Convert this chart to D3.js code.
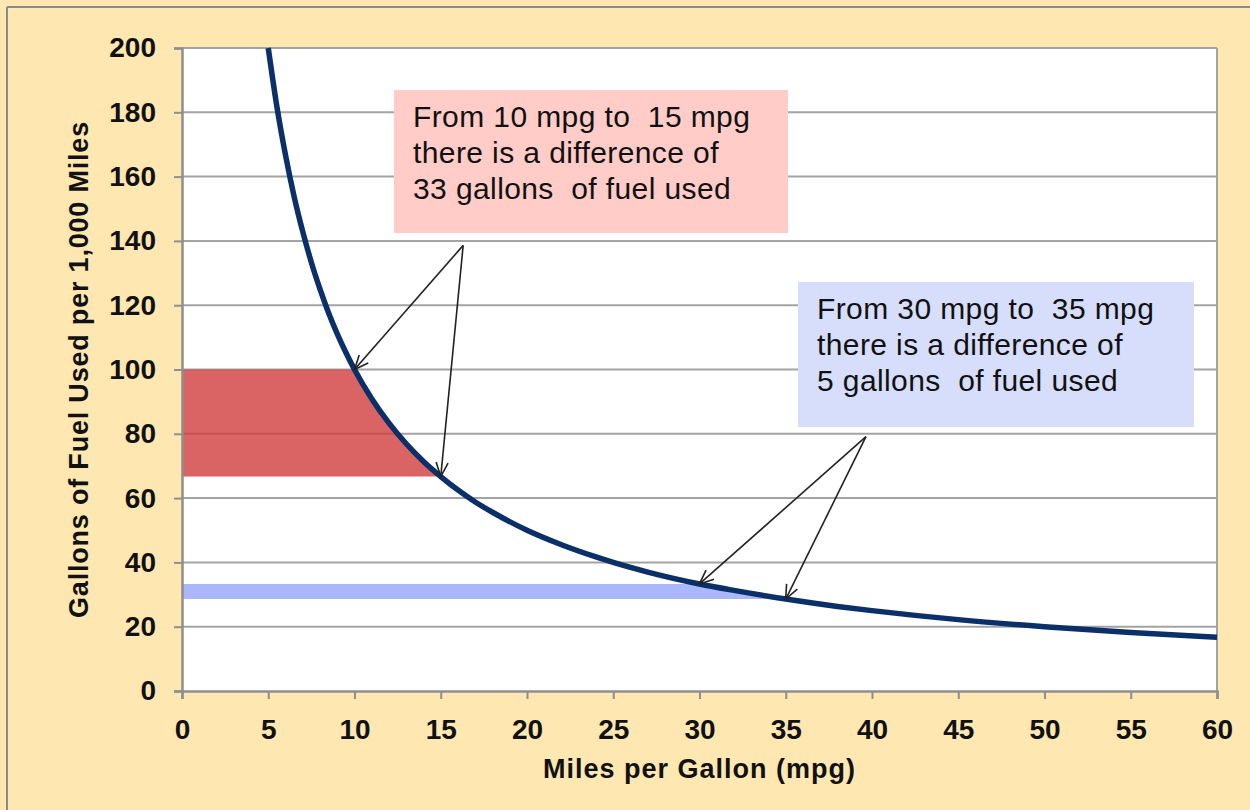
<!DOCTYPE html>
<html>
<head>
<meta charset="utf-8">
<script src="https://cdn.jsdelivr.net/npm/d3@7"></script>
<style>
  html, body { margin: 0; padding: 0; background: #fee7b1; }
  svg { display: block; }
</style>
</head>
<body>
<svg id="chart" width="1250" height="810"></svg>
<script>
// ---- data ----
const mpg     = [5, 5.5, 6, 6.5, 7, 7.5, 8, 8.5, 9, 9.5, 10, 11, 12, 13, 14, 15, 16, 17, 18, 20, 22, 24, 25, 27, 30, 32, 35, 38, 40, 45, 50, 55, 60];
const gallons = [200, 181.8, 166.7, 153.8, 142.9, 133.3, 125, 117.6, 111.1, 105.3, 100, 90.9, 83.3, 76.9, 71.4, 66.7, 62.5, 58.8, 55.6, 50, 45.5, 41.7, 40, 37, 33.3, 31.3, 28.6, 26.3, 25, 22.2, 20, 18.2, 16.7];
const xTicks = [0, 5, 10, 15, 20, 25, 30, 35, 40, 45, 50, 55, 60];
const yTicks = [0, 20, 40, 60, 80, 100, 120, 140, 160, 180, 200];
const redBand  = [10, 15];   // mpg range
const blueBand = [30, 35];   // mpg range
const note1 = ["From 10 mpg to  15 mpg", "there is a difference of", "33 gallons  of fuel used"];
const note2 = ["From 30 mpg to  35 mpg", "there is a difference of", "5 gallons  of fuel used"];
const arrowOrigin1 = [16.3, 138.6];
const arrowOrigin2 = [39.65, 79.1];
const xTitle = "Miles per Gallon (mpg)";
const yTitle = "Gallons of Fuel Used per 1,000 Miles";

const pts = mpg.map((m, i) => ({x: m, y: gallons[i]}));

// ---- layout ----
const svg = d3.select("#chart");
const L = 182, R = 1217, T = 48, B = 691;
const x = d3.scaleLinear().domain([0, 60]).range([L, R]);
const y = d3.scaleLinear().domain([0, 200]).range([B, T]);

// outer frame (top & left)
svg.append("line").attr("x1", 7).attr("x2", 1250).attr("y1", 7).attr("y2", 7).attr("stroke", "#8a8a8a").attr("stroke-width", 2);
svg.append("line").attr("x1", 7).attr("x2", 7).attr("y1", 7).attr("y2", 810).attr("stroke", "#8a8a8a").attr("stroke-width", 2);

// plot area
svg.append("rect").attr("x", L).attr("y", T).attr("width", R - L).attr("height", B - T).attr("fill", "#ffffff");

// gridlines
svg.append("g").selectAll("line").data(yTicks.filter(d => d > 0)).join("line")
  .attr("x1", L).attr("x2", R).attr("y1", d => y(d)).attr("y2", d => y(d))
  .attr("stroke", "#a3a3a3").attr("stroke-width", 2);
// right border of plot
svg.append("line").attr("x1", R).attr("x2", R).attr("y1", T).attr("y2", B).attr("stroke", "#a3a3a3").attr("stroke-width", 2);

// bands
function bandPath(range) {
  const seg = pts.filter(p => p.x >= range[0] && p.x <= range[1]);
  const poly = [{x: 0, y: seg[0].y}, ...seg, {x: 0, y: seg[seg.length - 1].y}];
  return d3.line().x(d => x(d.x)).y(d => y(d.y)).curve(d3.curveLinear)(poly) + "Z";
}
svg.append("path").attr("d", bandPath(redBand)).attr("fill", "rgb(209,61,61)").attr("fill-opacity", 0.8);
svg.append("path").attr("d", bandPath(blueBand)).attr("fill", "rgb(150,165,250)").attr("fill-opacity", 0.8);

// axes
const fontAxis = "'Liberation Sans', Arial, sans-serif";
const yAxis = svg.append("g").attr("transform", `translate(${L},0)`)
  .call(d3.axisLeft(y).tickValues(yTicks).tickSize(8).tickPadding(18).tickFormat(d3.format("d")));
const xAxis = svg.append("g").attr("transform", `translate(0,${B})`)
  .call(d3.axisBottom(x).tickValues(xTicks).tickSize(8).tickPadding(20).tickFormat(d3.format("d")));
[yAxis, xAxis].forEach(a => {
  a.select(".domain").attr("stroke", "#8f8f8f").attr("stroke-width", 2.5);
  a.selectAll(".tick line").attr("stroke", "#8f8f8f").attr("stroke-width", 2);
  a.selectAll(".tick text").attr("font-family", fontAxis).attr("font-weight", "bold")
    .attr("font-size", 28).attr("fill", "#111");
});

// curve
svg.append("path").datum(pts)
  .attr("d", d3.line().x(d => x(d.x)).y(d => y(d.y)).curve(d3.curveMonotoneX))
  .attr("fill", "none").attr("stroke", "#0b2f69").attr("stroke-width", 5.5).attr("stroke-linecap", "butt");

// annotation boxes
function note(lines, bx, by, bw, bh, fill) {
  svg.append("rect").attr("x", bx).attr("y", by).attr("width", bw).attr("height", bh).attr("fill", fill);
  svg.append("g").selectAll("text").data(lines).join("text")
    .attr("x", bx + 19).attr("y", (d, i) => by + 37 + i * 36)
    .attr("font-family", fontAxis).attr("font-size", 30).attr("letter-spacing", 0.4).attr("fill", "#111")
    .style("white-space", "pre")
    .text(d => d);
}
note(note1, 394, 90, 394, 143, "#ffccc8");
note(note2, 798, 282, 396, 145, "#d6defc");

// arrows
const defs = svg.append("defs");
defs.append("marker").attr("id", "arr").attr("viewBox", "0 0 16 16")
  .attr("refX", 15).attr("refY", 8).attr("markerWidth", 16).attr("markerHeight", 16)
  .attr("markerUnits", "userSpaceOnUse").attr("orient", "auto")
  .append("path").attr("d", "M1,2 L15,8 L1,14").attr("fill", "none").attr("stroke", "#222").attr("stroke-width", 1.6);

function arrow(from, to) {
  svg.append("line").attr("x1", x(from[0])).attr("y1", y(from[1]))
    .attr("x2", x(to[0])).attr("y2", y(to[1]))
    .attr("stroke", "#222").attr("stroke-width", 1.6).attr("marker-end", "url(#arr)");
}
const p = m => { const i = mpg.indexOf(m); return [mpg[i], gallons[i]]; };
arrow(arrowOrigin1, p(redBand[0]));
arrow(arrowOrigin1, p(redBand[1]));
arrow(arrowOrigin2, p(blueBand[0]));
arrow(arrowOrigin2, p(blueBand[1]));

// axis titles
svg.append("text").attr("x", (L + R) / 2).attr("y", 778).attr("text-anchor", "middle")
  .attr("font-family", fontAxis).attr("font-weight", "bold").attr("font-size", 27).attr("letter-spacing", 1)
  .attr("fill", "#111").text(xTitle);
svg.append("text").attr("transform", `translate(88,${(T + B) / 2}) rotate(-90)`).attr("text-anchor", "middle")
  .attr("font-family", fontAxis).attr("font-weight", "bold").attr("font-size", 27).attr("letter-spacing", 0.8)
  .attr("fill", "#111").text(yTitle);
</script>
</body>
</html>
